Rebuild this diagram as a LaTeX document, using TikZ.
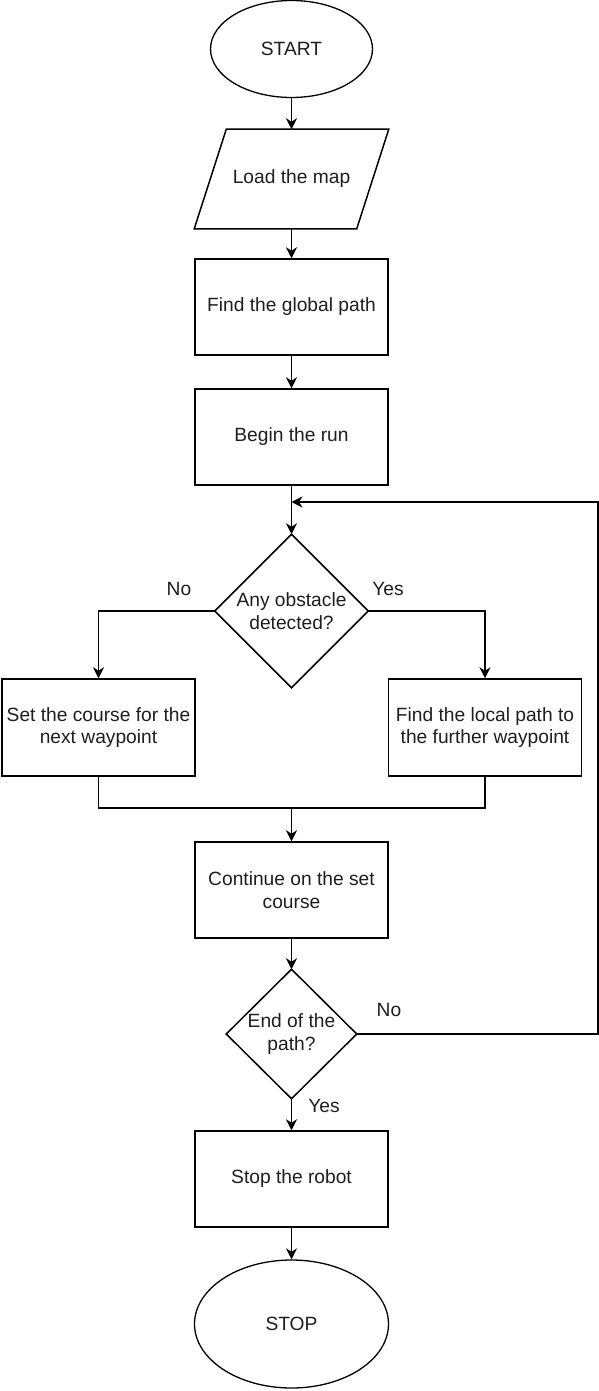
\documentclass[tikz,border=0pt]{standalone}
\usepackage{fontspec}
\setmainfont{Liberation Sans}
\usetikzlibrary{shapes.geometric,arrows.meta}
\definecolor{txt}{HTML}{1E1E1E}
\tikzset{
  base/.style={font=\fontsize{19.2}{22.5}\selectfont, text=txt, align=center, inner sep=0pt, line width=1.5pt},
  box/.style={base, draw, rectangle, minimum width=193pt, minimum height=96pt},
  term/.style={base, draw, ellipse, line width=1.3pt},
  hidden/.style={base, rectangle},
  conn/.style={line width=1.5pt, -{Stealth[length=11pt,width=11pt,inset=3.5pt]}},
  plain/.style={line width=1.5pt},
  lbl/.style={font=\fontsize{19.2}{22.5}\selectfont, text=txt, inner sep=0pt}
}
\begin{document}
\begin{tikzpicture}[x=1pt,y=-1pt]
\useasboundingbox (0,0) rectangle (599,1391);
% nodes
\node[term, minimum width=162pt, minimum height=97pt] (start) at (291.5,49) {START};
\node[hidden, minimum width=193pt, minimum height=98pt] (load) at (291.5,179) {Load the map};
\draw[line width=1.5pt] ([xshift=32pt]load.north west) -- (load.north east) -- ([xshift=-32pt]load.south east) -- (load.south west) -- cycle;
\node[box] (global) at (291.5,307) {Find the global path};
\node[box] (begin) at (291.5,437) {Begin the run};
\node[hidden, minimum width=152pt, minimum height=152pt] (d1) at (291.5,611) {Any obstacle\\detected?};
\draw[line width=1.5pt] (d1.north) -- (d1.east) -- (d1.south) -- (d1.west) -- cycle;
\node[box, minimum height=97pt] (left) at (98.5,727.5) {Set the course for the\\next waypoint};
\node[box, minimum height=97pt] (right) at (485,727.5) {Find the local path to\\the further waypoint};
\node[box] (cont) at (291.5,890) {Continue on the set\\course};
\node[hidden, minimum width=129pt, minimum height=128pt] (d2) at (291.5,1034) {End of the\\path?};
\draw[line width=1.5pt] (d2.north) -- (d2.east) -- (d2.south) -- (d2.west) -- cycle;
\node[box] (stoprobot) at (291.5,1179) {Stop the robot};
\node[term, minimum width=194pt, minimum height=128pt] (stop) at (291.5,1324) {STOP};
% coordinates
\coordinate (merge) at (291.5,808);
\coordinate (loopA) at (598,1034);
\coordinate (loopB) at (598,502);
\coordinate (loopC) at (291.5,502);
% connectors
\draw[conn] (start) -- (load);
\draw[conn] (load) -- (global);
\draw[conn] (global) -- (begin);
\draw[conn] (begin) -- (d1);
\draw[conn] (d1.west) -| (left.north);
\draw[conn] (d1.east) -| (right.north);
\draw[plain] (left.south) |- (merge) -| (right.south);
\draw[conn] (merge) -- (cont.north);
\draw[conn] (cont) -- (d2);
\draw[conn] (d2.south) -- (stoprobot.north);
\draw[conn] (stoprobot) -- (stop);
\draw[conn] (d2.east) -- (loopA) -- (loopB) -- (loopC);
% labels
\node[lbl] (lno1) at (179,589) {No};
\node[lbl] (lyes1) at (388,589) {Yes};
\node[lbl] (lno2) at (389,1010) {No};
\node[lbl] (lyes2) at (324,1106) {Yes};
\end{tikzpicture}
\end{document}
